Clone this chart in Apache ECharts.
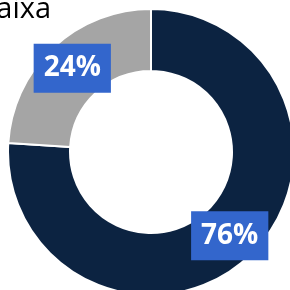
<!DOCTYPE html>
<html>
<head>
<meta charset="utf-8">
<script src="https://cdn.jsdelivr.net/npm/echarts@6/dist/echarts.min.js"></script>
<style>
  html, body { margin: 0; padding: 0; background: #fff; }
  #chart { width: 290px; height: 290px; }
</style>
</head>
<body>
<div id="chart"></div>
<script>
var titleText = 'Caixa'
var sliceNames = ['Sim', 'Não']
var sliceValues = [76, 24]
var sliceColors = ['#0c2341', '#a5a5a5']

var chart = echarts.init(document.getElementById('chart'))

chart.setOption({
  animation: false,
  graphic: [{
    type: 'text',
    x: -22,
    y: -5,
    style: {
      text: titleText,
      font: '29px "Open Sans"',
      fill: '#000'
    }
  }],
  series: [{
    type: 'pie',
    center: [151, 152],
    radius: [81, 143],
    startAngle: 90,
    clockwise: true,
    itemStyle: {
      borderColor: '#fff',
      borderWidth: 2
    },
    label: {
      show: true,
      position: 'inside',
      formatter: function (p) { return p.value + '%' },
      color: '#fff',
      fontFamily: 'Open Sans',
      fontWeight: 'bold',
      fontSize: 28,
      lineHeight: 28,
      backgroundColor: '#3366cc',
      padding: [11, 10, 10, 10]
    },
    labelLine: { show: false },
    emphasis: { disabled: true },
    data: sliceValues.map(function (v, i) {
      return { name: sliceNames[i], value: v, itemStyle: { color: sliceColors[i] } }
    })
  }]
})
</script>
</body>
</html>
